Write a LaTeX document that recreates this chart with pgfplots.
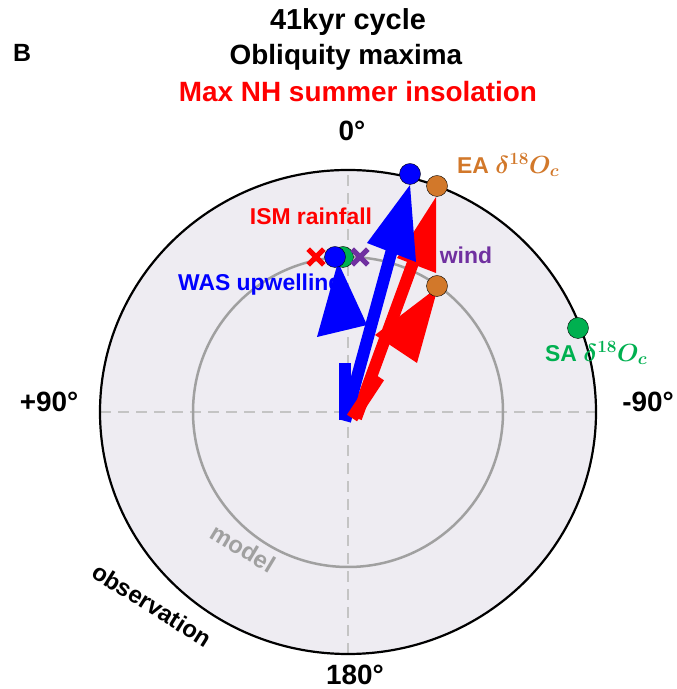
\documentclass[border=0pt]{standalone}
\usepackage{fontspec}
\setmainfont{Liberation Sans}
\usepackage{bm}
\usepackage{pgfplots}
\pgfplotsset{compat=1.18}
\definecolor{diskfill}{HTML}{EEECF2}
\definecolor{dashgray}{HTML}{C4C4C4}
\definecolor{ringgray}{HTML}{A0A0A0}
\definecolor{cblue}{HTML}{0000FF}
\definecolor{cred}{HTML}{FF0000}
\definecolor{corange}{HTML}{D2782A}
\definecolor{cgreen}{HTML}{00B050}
\definecolor{cpurple}{HTML}{7030A0}
\newcommand{\fs}[1]{\fontsize{#1}{#1}\selectfont}

\begin{document}
\begin{tikzpicture}
\begin{axis}[
  width=677bp, height=689bp, scale only axis,
  xmin=-348, xmax=329, ymin=-277, ymax=412,
  hide axis, clip=false,
]
% phase wheel: outer circle = observation, inner circle = model
\fill[diskfill] (axis cs:0,0) ellipse [x radius=248, y radius=242];
\draw[dashgray, line width=2.5bp, dash pattern=on 11bp off 7bp] (axis cs:0,-242) -- (axis cs:0,242);
\draw[dashgray, line width=2.5bp, dash pattern=on 11bp off 7bp] (axis cs:-248,0) -- (axis cs:248,0);
\draw[ringgray, line width=2.5bp] (axis cs:0,0) circle [radius=155];
\draw[black, line width=2.2bp] (axis cs:0,0) ellipse [x radius=248, y radius=242];

% titles and labels
\node[font=\bfseries\fs{29}] at (axis cs:0,390) {41kyr cycle};
\node[font=\bfseries\fs{28}] at (axis cs:-2,355) {Obliquity maxima};
\node[font=\bfseries\fs{28}, text=cred] at (axis cs:10,320) {Max NH summer insolation};
\node[font=\bfseries\fs{25}] at (axis cs:-326,359) {B};
\node[font=\bfseries\fs{28}] at (axis cs:4,281) {0\textdegree};
\node[font=\bfseries\fs{28}] at (axis cs:-299,10) {+90\textdegree};
\node[font=\bfseries\fs{28}] at (axis cs:300,10) {-90\textdegree};
\node[font=\bfseries\fs{28}] at (axis cs:7,-263) {180\textdegree};
\node[font=\bfseries\fs{23}, text=cred] at (axis cs:-37,196) {ISM rainfall};
\node[font=\bfseries\fs{23}, text=cblue, anchor=west, inner sep=0pt] at (axis cs:-170,127) {WAS upwelling};
\node[font=\bfseries\fs{23}, text=cpurple] at (axis cs:118,157) {wind};
\node[font=\bfseries\fs{23}, text=corange, anchor=west, inner sep=0pt] at (axis cs:109,247) {EA $\bm{\delta^{18}O_c}$};
\node[font=\bfseries\fs{23}, text=cgreen, anchor=west, inner sep=0pt] at (axis cs:197,59) {SA $\bm{\delta^{18}O_c}$};
\node[font=\bfseries\fs{24}, text=ringgray, rotate=-31, inner sep=0pt] at (axis cs:-105,-136) {model};
\node[font=\bfseries\fs{24}, rotate=-32, inner sep=0pt] at (axis cs:-196,-193) {observation};

% observed phase arrows (shaft + head)
\addplot[cred, line width=12bp, no marks] coordinates {(8,-6) (66,152)};
\addplot[fill=cred, draw=none] coordinates {(88,215) (49,154) (88,139)};
\addplot[cblue, line width=12bp, no marks] coordinates {(-3,-9) (45,166)};
\addplot[fill=cblue, draw=none] coordinates {(62,227) (19,169) (68,150)};
% model phase arrows
\addplot[cblue, line width=12bp, no marks] coordinates {(-3,-8) (-3,49)};
\addplot[fill=cblue, draw=none] coordinates {(-10,150) (-31,75) (19,87)};
\addplot[cred, line width=12bp, no marks] coordinates {(4,-6) (31,35)};
\addplot[fill=cred, draw=none] coordinates {(90,125) (27,77) (69,49)};

% observation points
\addplot[only marks, mark=*, mark size=10.5bp, mark options={draw=none, fill=cblue}] coordinates {(62,238)};
\addplot[only marks, mark=*, mark size=10.5bp, mark options={draw=none, fill=corange}] coordinates {(89,226)};
\addplot[only marks, mark=*, mark size=10.5bp, mark options={draw=none, fill=cgreen}] coordinates {(230,84)};
% model points
\addplot[only marks, mark=*, mark size=10.5bp, mark options={draw=none, fill=corange}] coordinates {(89,126)};
\addplot[only marks, mark=x, mark size=11bp, line width=5bp, cred, mark options={solid, line width=5bp}] coordinates {(-32,155)};
\addplot[only marks, mark=*, mark size=10.5bp, mark options={draw=none, fill=cgreen}] coordinates {(-5,155)};
\addplot[only marks, mark=*, mark size=10.5bp, mark options={draw=none, fill=cblue}] coordinates {(-13,155)};
\addplot[only marks, mark=x, mark size=11bp, line width=5bp, cpurple, mark options={solid, line width=5bp}] coordinates {(12,155)};
\end{axis}
\pgfresetboundingbox
\path (current axis.south west) rectangle (current axis.north east);
\end{tikzpicture}
\end{document}
